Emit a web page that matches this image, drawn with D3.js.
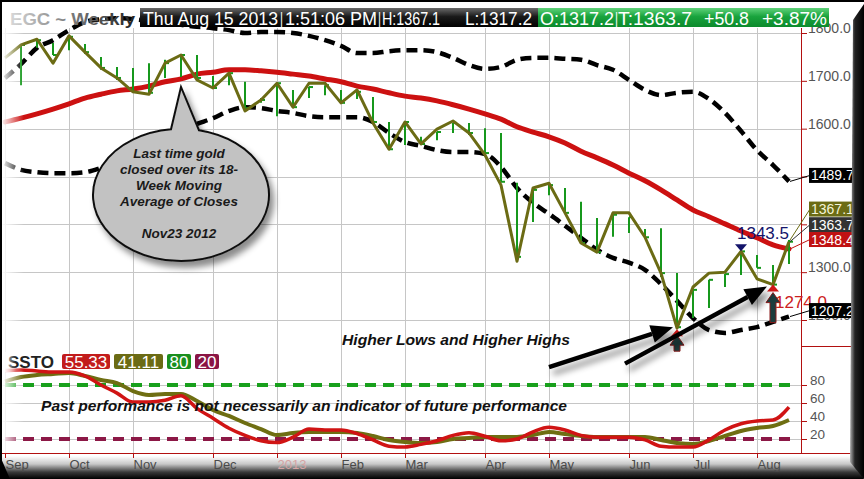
<!DOCTYPE html>
<html>
<head>
<meta charset="utf-8">
<script src="https://cdnjs.cloudflare.com/ajax/libs/d3/7.8.5/d3.min.js"></script>
<style>
html, body { margin: 0; padding: 0; background: #fff; overflow: hidden; }
svg { display: block; }
</style>
</head>
<body>
<div id="chart"></div>
<script>
// weekly bars, Friday closes
var firstWeek = new Date(2012, 8, 7), lastWeek = new Date(2013, 7, 16);

var closes = [1748, 1775, 1787, 1737, 1794, 1760, 1727, 1706, 1677, 1672, 1737, 1754, 1702, 1685, 1716, 1637, 1660, 1695, 1645, 1695,
	1695, 1654, 1681, 1612, 1557, 1614, 1568, 1599, 1616, 1591, 1545, 1482, 1323, 1476, 1486, 1424, 1361, 1342, 1424, 1424,
	1373, 1298, 1183, 1269, 1298, 1300, 1343.5, 1286, 1274, 1363.7];
var highs = [null, 1777, 1785, 1779, 1792, 1777, 1750, 1729, 1727, 1737, 1744, 1754, 1754, 1710, 1716, 1698, 1664, 1695, 1681, 1687,
	1691, 1681, 1677, 1666, 1614, 1614, 1583, 1593, 1612, 1612, 1601, 1591, 1487, 1472, 1482, 1476, 1447, 1413, 1420, 1415,
	1390, 1392, 1298, 1263, 1284, 1296, 1343.5, 1336, 1315, 1367.1];
var lows = [null, 1691, 1769, 1754, 1764, 1756, 1723, 1702, 1675, 1675, 1706, 1708, 1706, 1685, 1691, 1643, 1654, 1626, 1645, 1664,
	1670, 1654, 1662, 1614, 1557, 1566, 1566, 1576, 1591, 1587, 1549, 1489, 1332, 1405, 1461, 1424, 1361, 1340, 1374, 1382,
	1371, 1290, 1185, 1204, 1225, 1269, 1294, 1309, 1274, 1317.2];
var ma18 = [1614, 1622, 1631, 1641, 1652, 1664, 1672, 1679, 1683, 1689, 1698, 1704, 1714, 1718, 1723, 1723, 1721, 1718, 1714, 1710,
	1704, 1698, 1689, 1683, 1675, 1668, 1664, 1658, 1650, 1641, 1631, 1620, 1604, 1593, 1583, 1570, 1553, 1539, 1524, 1507,
	1491, 1472, 1451, 1430, 1416, 1401, 1386, 1372, 1357, 1348.4];
var upperBand = [1706, 1735, 1769, 1785, 1806, 1823, 1829, 1831, 1829, 1825, 1821, 1817, 1813, 1810, 1806, 1800, 1802, 1802, 1800, 1794,
	1785, 1773, 1758, 1758, 1762, 1764, 1764, 1760, 1748, 1733, 1725, 1729, 1744, 1748, 1748, 1746, 1744, 1733, 1723, 1702,
	1681, 1670, 1675, 1677, 1662, 1633, 1595, 1555, 1524, 1489.7];
var lowerBand = [1528, 1514, 1509, 1507, 1507, 1509, 1518, 1530, 1545, 1564, 1580, 1597, 1610, 1622, 1637, 1645, 1643, 1637, 1633, 1626,
	1624, 1624, 1624, 1614, 1591, 1572, 1564, 1555, 1551, 1551, 1547, 1520, 1476, 1445, 1422, 1397, 1372, 1347, 1330, 1320,
	1305, 1275, 1240, 1204, 1179, 1173, 1179, 1185, 1196, 1207.2];
var stoK = [96, 96.7, 95.6, 94.4, 94.4, 90, 80, 71, 61, 61, 63, 68, 54, 43, 32, 24, 18, 16, 22, 31,
	30, 30, 26, 19, 12, 11, 14, 18, 24, 27, 23, 18, 20, 28, 33, 30, 24, 22, 22, 22,
	19, 12, 11, 11, 19, 30, 37, 40, 41, 55.33];
var stoD = [84, 88.9, 91.1, 92.2, 93.3, 90, 85.6, 82.2, 73.3, 68.9, 70, 70, 62.2, 52.2, 45.6, 37.8, 31.1, 24.4, 26.7, 27.8,
	27.8, 27.8, 26.7, 23.3, 18.9, 16.7, 15.6, 16.7, 20, 21.1, 22.2, 22.2, 22.2, 24.4, 27.8, 25.6, 23.3, 22.2, 22.2, 22.2,
	22.2, 18.9, 15.6, 14.4, 17.8, 23.3, 28.9, 32.2, 34.4, 41.11];
var priceTicks = [1800, 1700, 1600, 1500, 1400, 1300, 1200];
var priceLabels = [1800, 1700, 1600, 1300, 1200];	// 1500 and 1400 sit under the value tags
var stoTicks = [80, 60, 40, 20];
var stoLevels = [80, 20];

(function(global, doc) {

var W = 864, H = 479;
var weeks = d3.timeFriday.range(firstWeek, d3.timeDay.offset(lastWeek, 1));
var monthTicks = weeks.filter(function(d) { return d.getDate() <= 7; });
var last = weeks.length - 1;

var x = d3.scaleTime().domain([firstWeek, lastWeek]).range([5, 789]);
var yP = d3.scaleLinear().domain([1200, 1800]).range([320, 33]);
var yO = d3.scaleLinear().domain([0, 100]).range([457, 367]);
var xi = function(d, i) { return x(weeks[i]); };

var svg = d3.select('#chart').append('svg')
	.attr('width', W).attr('height', H)
	.attr('font-family', '"Liberation Sans", Arial, sans-serif');

var defs = svg.append('defs');
defs.append('filter').attr('id', 'shadow').attr('x', '-20%').attr('y', '-20%').attr('width', '150%').attr('height', '160%')
	.append('feDropShadow').attr('dx', 4).attr('dy', 6).attr('stdDeviation', 3)
	.attr('flood-color', '#000').attr('flood-opacity', 0.45);
function grad(id, x2, y2, stops) {
	var g = defs.append('linearGradient').attr('id', id)
		.attr('x1', 0).attr('y1', 0).attr('x2', x2).attr('y2', y2);
	stops.forEach(function(s) {
		g.append('stop').attr('offset', s[0]).attr('stop-color', s[1]).attr('stop-opacity', s[2] == null ? 1 : s[2]);
	});
}
grad('blackBar', 0, 1, [['0%', '#6a6a6a'], ['45%', '#1a1a1a'], ['100%', '#000']]);
grad('greenBar', 0, 1, [['0%', '#5fd27a'], ['45%', '#19a33d'], ['100%', '#0c8a2c']]);
grad('egcText', 1, 0, [['0%', '#d8d8d8'], ['40%', '#8a8a8a'], ['100%', '#222']]);
grad('leftFade', 1, 0, [['0%', '#fff', 0.95], ['100%', '#fff', 0]]);
grad('rightEdge', 1, 0, [['0%', '#b0b0b0'], ['35%', '#222'], ['100%', '#000']]);
grad('bottomEdge', 0, 1, [['0%', '#fff'], ['35%', '#c8c8c8'], ['70%', '#3a3a3a'], ['100%', '#000']]);

svg.append('rect').attr('width', W).attr('height', H).attr('fill', '#fff');

// grid
var grid = svg.append('g').attr('stroke', '#c6c6c6').attr('stroke-width', 1);
grid.selectAll('line.v').data(monthTicks).enter().append('line')
	.attr('x1', function(d) { return Math.round(x(d)) + 0.5; })
	.attr('x2', function(d) { return Math.round(x(d)) + 0.5; })
	.attr('y1', 28).attr('y2', 453);
grid.selectAll('line.hp').data(priceTicks).enter().append('line')
	.attr('x1', 2).attr('x2', 801)
	.attr('y1', function(d) { return Math.round(yP(d)) + 0.5; })
	.attr('y2', function(d) { return Math.round(yP(d)) + 0.5; });
grid.selectAll('line.ho').data(stoTicks).enter().append('line')
	.attr('x1', 2).attr('x2', 801)
	.attr('y1', function(d) { return Math.round(yO(d)) + 0.5; })
	.attr('y2', function(d) { return Math.round(yO(d)) + 0.5; });

// price panel
var line = function(scale, curve) {
	return d3.line().x(xi).y(function(d) { return scale(d); }).curve(curve || d3.curveLinear);
};
var price = svg.append('g');
price.append('path').datum(upperBand).attr('d', line(yP, d3.curveMonotoneX))
	.attr('fill', 'none').attr('stroke', '#000').attr('stroke-width', 4.5).attr('stroke-dasharray', '11,6');
price.append('path').datum(lowerBand).attr('d', line(yP, d3.curveMonotoneX))
	.attr('fill', 'none').attr('stroke', '#000').attr('stroke-width', 4.5).attr('stroke-dasharray', '11,6');
price.append('path').datum(ma18).attr('d', line(yP, d3.curveMonotoneX))
	.attr('fill', 'none').attr('stroke', '#cc1111').attr('stroke-width', 5).attr('stroke-linecap', 'round');

var barIdx = d3.range(weeks.length).filter(function(i) { return highs[i] != null; });
var bars = price.append('g').attr('stroke', '#16981c').attr('stroke-width', 2);
bars.selectAll('line.hl').data(barIdx).enter().append('line')
	.attr('x1', function(i) { return x(weeks[i]); }).attr('x2', function(i) { return x(weeks[i]); })
	.attr('y1', function(i) { return yP(highs[i]); }).attr('y2', function(i) { return yP(lows[i]); });
bars.selectAll('line.c').data(barIdx).enter().append('line')
	.attr('x1', function(i) { return x(weeks[i]); }).attr('x2', function(i) { return x(weeks[i]) + 4; })
	.attr('y1', function(i) { return yP(Math.max(lows[i], Math.min(highs[i], closes[i]))); })
	.attr('y2', function(i) { return yP(Math.max(lows[i], Math.min(highs[i], closes[i]))); });

price.append('path').datum(closes).attr('d', line(yP))
	.attr('fill', 'none').attr('stroke', '#6b6b14').attr('stroke-width', 3).attr('stroke-linejoin', 'round');

// oscillator panel
var osc = svg.append('g');
osc.selectAll('line.lvl').data(stoLevels).enter().append('line')
	.attr('x1', 5).attr('x2', 790)
	.attr('y1', function(d) { return yO(d); }).attr('y2', function(d) { return yO(d); })
	.attr('stroke', function(d) { return d > 50 ? '#18a01c' : '#8c1846'; })
	.attr('stroke-width', 4).attr('stroke-dasharray', '11,7');
osc.append('path').datum(stoD).attr('d', line(yO, d3.curveMonotoneX))
	.attr('fill', 'none').attr('stroke', '#6e6e12').attr('stroke-width', 4);
osc.append('path').datum(stoK).attr('d', line(yO, d3.curveMonotoneX))
	.attr('fill', 'none').attr('stroke', '#d01414').attr('stroke-width', 3.5);

// left fade of the plot
svg.append('rect').attr('x', 2).attr('y', 28).attr('width', 22).attr('height', 426).attr('fill', 'url(#leftFade)');

// axes
var red = '#b21010';
svg.append('line').attr('x1', 801.5).attr('x2', 801.5).attr('y1', 28).attr('y2', 454).attr('stroke', red);
svg.append('line').attr('x1', 801).attr('x2', 852).attr('y1', 346.5).attr('y2', 346.5).attr('stroke', red);
svg.append('line').attr('x1', 0).attr('x2', 852).attr('y1', 453.5).attr('y2', 453.5).attr('stroke', red);

var pAxis = svg.append('g').attr('transform', 'translate(801,0)')
	.call(d3.axisRight(yP).tickValues(priceTicks).tickSize(6)
		.tickFormat(function(d) { return priceLabels.indexOf(d) < 0 ? '' : d3.format('.1f')(d); }));
var oAxis = svg.append('g').attr('transform', 'translate(801,0)')
	.call(d3.axisRight(yO).tickValues(stoTicks).tickSize(6).tickFormat(d3.format('d')));
[pAxis, oAxis].forEach(function(a) {
	a.select('.domain').remove();
	a.selectAll('line').attr('stroke', red);
	a.selectAll('text').attr('fill', '#555').attr('font-size', 14).attr('x', 7).attr('dy', '-0.02em')
		.attr('font-family', '"Liberation Sans", Arial, sans-serif');
});
oAxis.selectAll('text').attr('font-size', 13.5).attr('x', 9);

var fmtMonth = function(d) { return d.getMonth() === 0 ? d3.timeFormat('%Y')(d) : d3.timeFormat('%b')(d); };

// callout bubble, tip on the 18-week average at Nov 23 2012
var tipX = x(weeks[11]), tipY = yP(ma18[11]) + 8;
var bx = tipX, by = tipY + 108, rx = 88, ry = 66;
var lx = bx - 10, rxp = bx + 18;
var ly = by - ry * Math.sqrt(1 - Math.pow((lx - bx) / rx, 2));
var ry2 = by - ry * Math.sqrt(1 - Math.pow((rxp - bx) / rx, 2));
svg.append('path')
	.attr('d', 'M' + lx + ',' + ly + 'L' + tipX + ',' + tipY + 'L' + rxp + ',' + ry2 +
		'A' + rx + ',' + ry + ' 0 1 1 ' + lx + ',' + ly + 'Z')
	.attr('fill', '#c2c2c2').attr('stroke', '#111').attr('stroke-width', 2).attr('filter', 'url(#shadow)');
var bubbleLines = ['Last time gold', 'closed over its 18-', 'Week Moving', 'Average of Closes', '', 'Nov23 2012'];
svg.append('g').selectAll('text').data(bubbleLines).enter().append('text')
	.attr('x', bx - 2).attr('y', function(d, i) { return by - 37 + i * 16; })
	.attr('text-anchor', 'middle').attr('font-size', 13.5).attr('font-weight', 'bold').attr('font-style', 'italic')
	.attr('fill', '#1a1a1a').text(function(d) { return d; });

// arrows to the two higher lows
function arrow(x1, y1, x2, y2) {
	var a = Math.atan2(y2 - y1, x2 - x1), hl = 22, hw = 9;
	var bxh = x2 - hl * Math.cos(a), byh = y2 - hl * Math.sin(a);
	var g = svg.append('g').attr('filter', 'url(#shadow)');
	g.append('line').attr('x1', x1).attr('y1', y1).attr('x2', bxh).attr('y2', byh)
		.attr('stroke', '#000').attr('stroke-width', 4.5);
	g.append('path').attr('d', 'M' + x2 + ',' + y2 +
		'L' + (bxh + hw * Math.sin(a)) + ',' + (byh - hw * Math.cos(a)) +
		'L' + (bxh - hw * Math.sin(a)) + ',' + (byh + hw * Math.cos(a)) + 'Z').attr('fill', '#000');
}
function upBlock(cx, top, h) {
	svg.append('path').attr('d', 'M' + cx + ',' + top + 'L' + (cx + 7) + ',' + (top + 10) + 'L' + (cx + 3) + ',' + (top + 10) +
		'L' + (cx + 3) + ',' + (top + h) + 'L' + (cx - 3) + ',' + (top + h) + 'L' + (cx - 3) + ',' + (top + 10) +
		'L' + (cx - 7) + ',' + (top + 10) + 'Z')
		.attr('fill', '#1d3d3d').attr('stroke', '#8a1c1c').attr('stroke-width', 1);
}
function triangle(cx, cy, up, fill) {
	var s = up ? -1 : 1;
	svg.append('path').attr('d', 'M' + (cx - 6) + ',' + (cy - 3 * s) + 'L' + (cx + 6) + ',' + (cy - 3 * s) + 'L' + cx + ',' + (cy + 4 * s) + 'Z')
		.attr('fill', fill);
}

var lowA = 42, lowB = 48, highA = 46;
triangle(x(weeks[lowA]), yP(lows[lowA]) + 6, true, '#d01818');
upBlock(x(weeks[lowA]), yP(lows[lowA]) + 8, 16);
triangle(x(weeks[lowB]), yP(lows[lowB]) + 4, true, '#d01818');
svg.append('text').attr('x', x(weeks[lowB]) + 2).attr('y', yP(lows[lowB]) + 23)
	.attr('font-size', 17).attr('fill', '#cc2020').text(d3.format('.1f')(lows[lowB]));
upBlock(x(weeks[lowB]), yP(lows[lowB]) + 8, 30);
arrow(x(weeks[lowA]) - 128, yP(lows[lowA]) + 40, x(weeks[lowA]) - 4, yP(lows[lowA]));
arrow(x(weeks[lowB]) - 148, yP(lows[lowB]) + 79, x(weeks[lowB]) - 6, yP(lows[lowB]) + 2);

triangle(x(weeks[highA]), yP(highs[highA]) - 4, false, '#14146a');
svg.append('text').attr('x', x(weeks[highA]) + 22).attr('y', yP(highs[highA]) - 12)
	.attr('text-anchor', 'middle').attr('font-size', 17).attr('fill', '#14146a').text(d3.format('.1f')(highs[highA]));

svg.append('text').attr('x', 342).attr('y', 345).attr('font-size', 15).attr('font-weight', 'bold')
	.attr('font-style', 'italic').attr('fill', '#111').attr('textLength', 228).attr('lengthAdjust', 'spacingAndGlyphs')
	.text('Higher Lows and Higher Highs');
svg.append('text').attr('x', 41).attr('y', 411).attr('font-size', 15).attr('font-weight', 'bold')
	.attr('font-style', 'italic').attr('fill', '#111').attr('textLength', 526).attr('lengthAdjust', 'spacingAndGlyphs')
	.text('Past performance is not necessarily an indicator of future performance');

// right-hand value tags
var tags = [
	{ v: upperBand[last], dy: -6, fill: '#000', color: '#fff' },
	{ v: highs[last], dy: -31, fill: '#6b6b14', color: '#f4f4d8' },
	{ v: closes[last], dy: -17, fill: '#333', color: '#fff' },
	{ v: ma18[last], dy: -9.5, fill: '#c01212', color: '#fff' },
	{ v: lowerBand[last], dy: -6, fill: '#000', color: '#fff' }
];
var tag = svg.append('g').selectAll('g').data(tags).enter().append('g');
tag.append('line').attr('x1', 790).attr('x2', 810)
	.attr('y1', function(d) { return yP(d.v); }).attr('y2', function(d) { return yP(d.v) + d.dy; })
	.attr('stroke', function(d) { return d.fill; }).attr('stroke-width', 1);
tag.append('rect').attr('x', 809).attr('width', 46).attr('height', 15)
	.attr('y', function(d) { return yP(d.v) + d.dy - 7.5; })
	.attr('fill', function(d) { return d.fill; });
tag.append('text').attr('x', 811).attr('y', function(d) { return yP(d.v) + d.dy + 5; })
	.attr('font-size', 14).attr('fill', function(d) { return d.color; })
	.text(function(d) { return d3.format('.1f')(d.v); });

// oscillator legend
var legend = svg.append('g');
legend.append('text').attr('x', 8).attr('y', 368).attr('font-size', 17).attr('font-weight', 'bold')
	.attr('fill', '#222').text('SSTO');
var chips = [
	{ t: d3.format('.2f')(stoK[last]), x: 62, w: 48, fill: '#c21c1c' },
	{ t: d3.format('.2f')(stoD[last]), x: 114, w: 49, fill: '#6b6b14' },
	{ t: stoLevels[0], x: 167, w: 24, fill: '#1a8f1e' },
	{ t: stoLevels[1], x: 195, w: 24, fill: '#8a1444' }
];
var chip = legend.selectAll('g').data(chips).enter().append('g');
chip.append('rect').attr('x', function(d) { return d.x; }).attr('y', 354).attr('width', function(d) { return d.w; })
	.attr('height', 15).attr('rx', 2).attr('fill', function(d) { return d.fill; });
chip.append('text').attr('x', function(d) { return d.x + d.w / 2; }).attr('y', 368).attr('text-anchor', 'middle')
	.attr('font-size', 17).attr('fill', '#fff').text(function(d) { return d.t; });
svg.append('rect').attr('x', 2).attr('y', 352).attr('width', 14).attr('height', 20).attr('fill', 'url(#leftFade)');

// title bar
var title = svg.append('g');
title.append('text').attr('x', 10).attr('y', 25).attr('font-size', 17).attr('font-weight', 'bold')
	.attr('fill', 'url(#egcText)').attr('textLength', 125).attr('lengthAdjust', 'spacingAndGlyphs').text('EGC ~ Weekly');
title.append('rect').attr('x', 140).attr('y', 8).attr('width', 398).attr('height', 19).attr('fill', 'url(#blackBar)');
title.append('rect').attr('x', 538).attr('y', 8).attr('width', 291).attr('height', 19).attr('fill', 'url(#greenBar)');
var fields = [
	['Thu Aug 15 2013', 143, 135], ['|', 280, 3], ['1:51:06 PM', 285, 92], ['|', 378, 3],
	['H:1367.1', 382, 58], ['L:1317.2', 465, 67],
	['O:1317.2', 540, 74], ['|', 615, 3], ['T:1363.7', 618, 74], ['+50.8', 704, 45], ['+3.87%', 762, 65]
];
title.selectAll('text.f').data(fields).enter().append('text')
	.attr('x', function(d) { return d[1]; }).attr('y', 25).attr('font-size', 17.5).attr('fill', '#fff')
	.attr('textLength', function(d) { return d[2]; }).attr('lengthAdjust', 'spacingAndGlyphs')
	.text(function(d) { return d[0]; });

// bottom bevel with month labels
svg.append('path').attr('d', 'M0,456L852,456L864,479L0,479Z').attr('fill', 'url(#bottomEdge)');
var xAxis = svg.append('g').attr('transform', 'translate(0,453)')
	.call(d3.axisBottom(x).tickValues(monthTicks).tickSize(5).tickFormat(fmtMonth));
xAxis.select('.domain').remove();
xAxis.selectAll('line').attr('stroke', red);
xAxis.selectAll('text').attr('text-anchor', 'start').attr('font-size', 13).attr('y', 7)
	.attr('font-family', '"Liberation Sans", Arial, sans-serif')
	.attr('fill', function(d) { return d.getMonth() === 0 ? '#d6a4a4' : '#4a4a4a'; });

// frame
svg.append('path').attr('d', 'M853,20L864,4L864,479L850,462Z').attr('fill', 'url(#rightEdge)');
svg.append('path').attr('d', 'M0,456L10,479L0,479Z').attr('fill', '#000');
svg.append('rect').attr('x', 0).attr('y', 0).attr('width', W).attr('height', 2).attr('fill', '#000');
svg.append('rect').attr('x', 0).attr('y', 0).attr('width', 2).attr('height', H).attr('fill', '#000');

})(window, document);
</script>
</body>
</html>
